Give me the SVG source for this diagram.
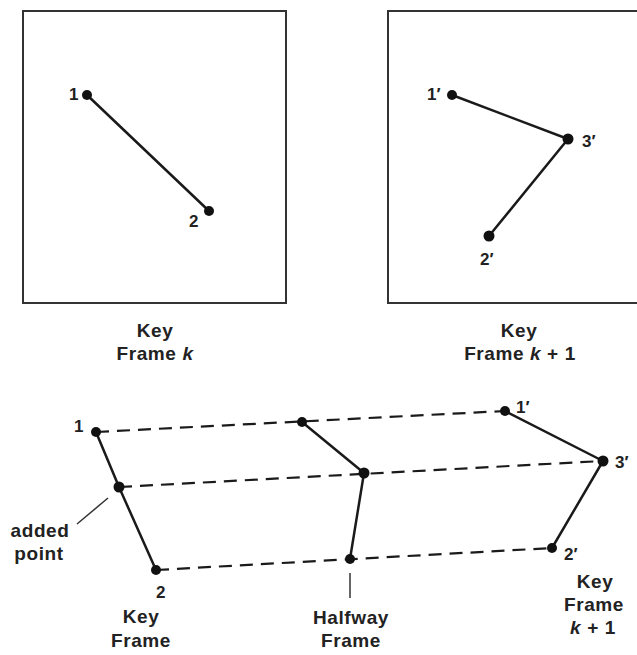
<svg xmlns="http://www.w3.org/2000/svg" width="637" height="655" viewBox="0 0 637 655">
<style>
.box{fill:#fff;stroke:#333;stroke-width:2}
.solid{stroke:#1a1a1a;stroke-width:2.5;fill:none;stroke-linecap:round;stroke-linejoin:round}
.dash{stroke:#1a1a1a;stroke-width:2.2;fill:none;stroke-dasharray:13 8}
.thin{stroke:#333;stroke-width:1.5;fill:none}
.pt{fill:#111}
text{font-family:"Liberation Sans",Arial,sans-serif;font-weight:bold;fill:#222}
.lab{font-size:17px}
.cap{font-size:19px;text-anchor:middle;letter-spacing:0.6px}
.it{font-style:italic}
</style>
<rect width="637" height="655" fill="#fff"/>
<g id="frame-k">
<rect class="box" x="23" y="11" width="263" height="292"/>
<text class="cap" x="155" y="337">Key</text>
<text class="cap" x="155" y="360">Frame <tspan class="it">k</tspan></text>
</g>
<g id="frame-k1">
<rect class="box" x="388" y="11" width="260" height="292"/>
<text class="cap" x="519" y="337">Key</text>
<text class="cap" x="520" y="360">Frame <tspan class="it">k</tspan> + 1</text>
</g>
<g id="connectors">
<line class="solid" x1="87" y1="95" x2="209" y2="211"/>
<polyline class="solid" points="452,95 568,139 489,236"/>
<line class="dash" x1="96" y1="432" x2="505" y2="411"/>
<line class="dash" x1="119" y1="487" x2="603" y2="461"/>
<line class="dash" x1="156" y1="570" x2="552" y2="548"/>
<polyline class="solid" points="96,432 119,487 156,570"/>
<polyline class="solid" points="302,422 364,473 350,559"/>
<polyline class="solid" points="505,411 603,461 552,548"/>
<line class="thin" x1="77" y1="524" x2="108" y2="498"/>
<line class="thin" x1="350" y1="573" x2="350" y2="598"/>
</g>
<g id="p1"><circle class="pt" cx="87" cy="95" r="5"/><text class="lab" x="69" y="100">1</text></g>
<g id="p2"><circle class="pt" cx="209" cy="211" r="5"/><text class="lab" x="189" y="227">2</text></g>
<g id="p1k"><circle class="pt" cx="452" cy="95" r="5"/><text class="lab" x="427" y="100">1′</text></g>
<g id="p3k"><circle class="pt" cx="568" cy="139" r="5.5"/><text class="lab" x="582" y="147">3′</text></g>
<g id="p2k"><circle class="pt" cx="489" cy="236" r="5.5"/><text class="lab" x="480" y="265">2′</text></g>
<g id="b1"><circle class="pt" cx="96" cy="432" r="5"/><text class="lab" x="74" y="432">1</text></g>
<g id="badded"><circle class="pt" cx="119" cy="487" r="5.5"/><text class="cap" x="40" y="537">added</text><text class="cap" x="39" y="560">point</text></g>
<g id="b2"><circle class="pt" cx="156" cy="570" r="5"/><text class="lab" x="156" y="598">2</text></g>
<g id="h1"><circle class="pt" cx="302" cy="422" r="5"/></g>
<g id="h3"><circle class="pt" cx="364" cy="473" r="5.5"/></g>
<g id="h2"><circle class="pt" cx="350" cy="559" r="5"/></g>
<g id="b1k"><circle class="pt" cx="505" cy="411" r="5"/><text class="lab" x="516" y="413">1′</text></g>
<g id="b3k"><circle class="pt" cx="603" cy="461" r="5.5"/><text class="lab" x="615" y="468">3′</text></g>
<g id="b2k"><circle class="pt" cx="552" cy="548" r="5"/><text class="lab" x="564" y="560">2′</text></g>
<g id="lbl-key"><text class="cap" x="141" y="623">Key</text><text class="cap" x="141" y="647">Frame</text></g>
<g id="lbl-half"><text class="cap" x="351" y="624">Halfway</text><text class="cap" x="351" y="647">Frame</text></g>
<g id="lbl-key1"><text class="cap" x="595" y="588">Key</text><text class="cap" x="594" y="611">Frame</text><text class="cap" x="593" y="634"><tspan class="it">k</tspan> + 1</text></g>
</svg>
